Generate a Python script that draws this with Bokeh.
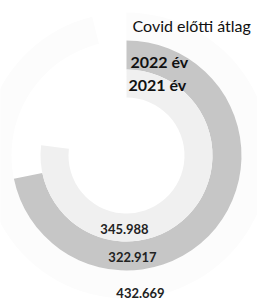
import math
from bokeh.plotting import figure
from bokeh.models import Range1d, ColumnDataSource
from bokeh.core.properties import value
from bokeh.embed import file_html
from bokeh.resources import INLINE

# data
categories = ["Covid előtti átlag", "2022 év", "2021 év"]
values = [432.669, 322.917, 345.988]
value_labels = ["432.669", "322.917", "345.988"]
scale_max = 450.0

# layout / style
W, H = 257, 300
cx, cy = 126, 145
inner_r = [115, 86, 58]
outer_r = [143, 115, 86]
colors = ["#fcfcfc", "#c6c6c6", "#f0f0f0"]
cat_label_dx = [6, 4, 2]
cat_label_dy = [130, 94, 71]
val_label_dx = [14, 6, -2]
val_label_dy = [-137, -101, -73]

p = figure(width=W, height=H, output_backend="svg", toolbar_location=None,
           x_range=Range1d(0, W), y_range=Range1d(0, H), min_border=0)
p.axis.visible = False
p.grid.visible = False
p.outline_line_color = None
p.background_fill_color = "white"

start = math.pi / 2
ends = [start - v / scale_max * 2 * math.pi for v in values]
src = ColumnDataSource(dict(x=[cx] * 3, y=[cy] * 3, ir=inner_r, orr=outer_r,
                            s=[start] * 3, e=ends, c=colors))
p.annular_wedge(x="x", y="y", inner_radius="ir", outer_radius="orr",
                start_angle="s", end_angle="e", direction="clock",
                fill_color="c", line_color=None, source=src)

cat_src = ColumnDataSource(dict(
    x=[cx + d for d in cat_label_dx],
    y=[cy + d for d in cat_label_dy],
    t=categories,
    st=["normal", "bold", "bold"]))
p.text(x="x", y="y", text="t", source=cat_src, text_font=value("Lato"),
       text_font_size="16px", text_font_style="st", text_align="left",
       text_baseline="middle", text_color="#111111")

val_src = ColumnDataSource(dict(
    x=[cx + d for d in val_label_dx],
    y=[cy + d for d in val_label_dy],
    t=value_labels))
p.text(x="x", y="y", text="t", source=val_src, text_font=value("Lato"),
       text_font_size="13px", text_font_style="bold", text_align="center",
       text_baseline="middle", text_color="#222222")

open("out.html", "w").write(file_html(p, INLINE))
